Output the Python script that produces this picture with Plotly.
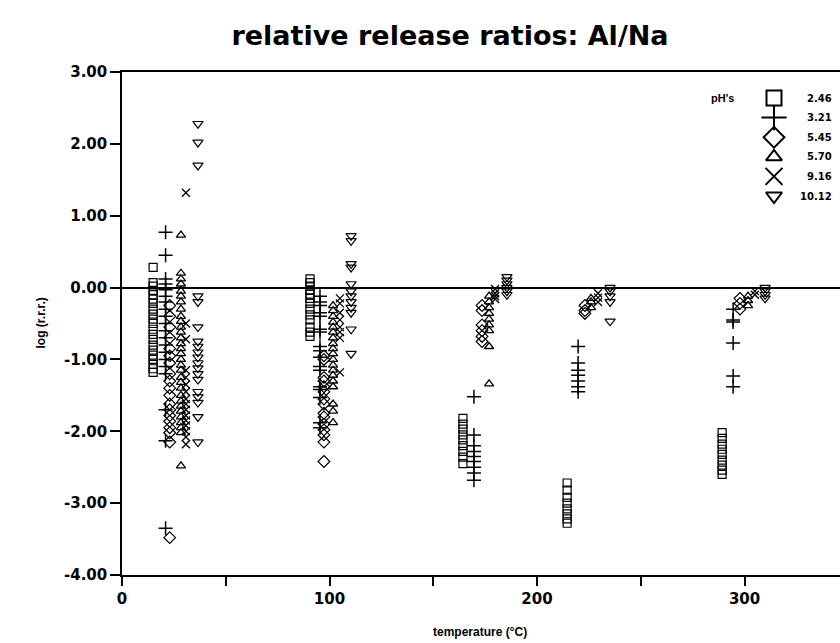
import plotly.graph_objects as go

# ---------------- data ----------------
ph_labels = ["2.46", "3.21", "5.45", "5.70", "9.16", "10.12"]

ph246_temps = [15.0, 90.6, 164.3, 214.5, 289.2]
ph246_vals = [
    [0.28, 0.07, 0.02, -0.04, -0.1, -0.16, -0.22, -0.3, -0.37, -0.44, -0.5, -0.58, -0.65, -0.72,
     -0.8, -0.87, -0.94, -1.0, -1.07, -1.13, -1.18],
    [0.12, 0.07, 0.02, -0.03, -0.09, -0.15, -0.22, -0.3, -0.38, -0.45, -0.55, -0.62, -0.68],
    [-1.82, -1.9, -1.97, -2.05, -2.12, -2.2, -2.28, -2.36, -2.45],
    [-2.72, -2.82, -2.92, -3.0, -3.08, -3.15, -3.22, -3.28],
    [-2.02, -2.1, -2.18, -2.25, -2.32, -2.4, -2.47, -2.54, -2.6],
]

ph321_temps = [21.0, 95.4, 169.6, 219.8, 294.5]
ph321_vals = [
    [0.77, 0.45, 0.12, 0.05, -0.03, -0.12, -0.2, -0.3, -0.4, -0.5, -0.6, -0.7, -0.8, -0.9, -1.0,
     -1.1, -1.2, -1.7, -2.13, -3.35],
    [-0.12, -0.2, -0.25, -0.35, -0.4, -0.58, -0.62, -0.82, -0.88, -0.97, -1.1, -1.15, -1.38,
     -1.42, -1.53, -1.88, -1.95],
    [-1.52, -2.05, -2.2, -2.28, -2.35, -2.42, -2.5, -2.58, -2.68],
    [-0.82, -1.05, -1.15, -1.22, -1.3, -1.38, -1.45],
    [-0.3, -0.45, -0.48, -0.77, -1.23, -1.38],
]

ph545_temps = [23.0, 97.3, 173.5, 223.1, 297.8]
ph545_vals = [
    [-0.25, -0.4, -0.55, -0.7, -0.85, -0.95, -1.05, -1.2, -1.3, -1.4, -1.5, -1.62, -1.7, -1.78,
     -1.86, -1.95, -2.02, -2.15, -3.48],
    [-0.95, -1.0, -1.25, -1.3, -1.38, -1.45, -1.55, -1.62, -1.75, -1.8, -1.9, -1.98, -2.05,
     -2.15, -2.42],
    [-0.25, -0.32, -0.52, -0.6, -0.68, -0.75],
    [-0.25, -0.32, -0.36],
    [-0.15, -0.22, -0.3],
]

ph570_temps = [28.4, 101.7, 176.9, 226.0, 301.7]
ph570_vals = [
    [0.73, 0.2, 0.12, 0.05, -0.05, -0.12, -0.2, -0.3, -0.4, -0.47, -0.55, -0.62, -0.7, -0.78,
     -0.85, -0.92, -1.0, -1.08, -1.15, -1.25, -1.32, -1.4, -1.5, -1.58, -1.65, -1.72, -1.8,
     -1.88, -1.95, -2.02, -2.48],
    [-0.25, -0.32, -0.4, -0.48, -0.55, -0.62, -0.7, -0.78, -0.85, -0.92, -1.0, -1.08, -1.15,
     -1.22, -1.3, -1.38, -1.62, -1.72, -1.88],
    [-0.12, -0.2, -0.28, -0.36, -0.44, -0.52, -0.6, -0.82, -1.34],
    [-0.15, -0.2, -0.28],
    [-0.12, -0.18, -0.25],
]

ph916_temps = [30.8, 105.0, 179.8, 229.4, 305.0]
ph916_vals = [
    [1.32, -0.5, -0.72, -1.15, -1.25, -1.35, -1.45, -1.55, -1.62, -1.7, -1.78, -1.85, -1.92,
     -2.0, -2.08, -2.18],
    [-0.15, -0.22, -0.35, -0.45, -0.55, -0.62, -0.7, -1.18],
    [-0.02, -0.08, -0.12, -0.16],
    [-0.08, -0.14, -0.2],
    [-0.05, -0.1],
]

ph1012_temps = [36.6, 110.4, 185.5, 235.2, 309.9]
ph1012_vals = [
    [2.28, 2.02, 1.7, -0.12, -0.2, -0.55, -0.75, -0.82, -0.9, -0.97, -1.05, -1.12, -1.2, -1.28,
     -1.45, -1.52, -1.6, -1.8, -2.15],
    [0.72, 0.65, 0.33, 0.28, 0.05, -0.05, -0.12, -0.2, -0.28, -0.35, -0.58, -0.92],
    [0.15, 0.1, 0.05, 0.0, -0.05, -0.1],
    [0.0, -0.05, -0.12, -0.2, -0.47],
    [0.0, -0.05, -0.1, -0.15],
]

x_tickvals = [0, 50, 100, 150, 200, 250, 300]
x_ticktext = ["0", "", "100", "", "200", "", "300"]
y_tickvals = [3, 2, 1, 0, -1, -2, -3, -4]
y_ticktext = ["3.00", "2.00", "1.00", "0.00", "-1.00", "-2.00", "-3.00", "-4.00"]

# ---------------- styles ----------------
series = [
    (ph246_temps, ph246_vals, "square-open", 8, 1.2),
    (ph321_temps, ph321_vals, "cross-thin-open", 10, 1.5),
    (ph545_temps, ph545_vals, "diamond-open", 9, 1.2),
    (ph570_temps, ph570_vals, "triangle-up-open", 8, 1.3),
    (ph916_temps, ph916_vals, "x-thin-open", 8, 1.3),
    (ph1012_temps, ph1012_vals, "triangle-down-open", 9, 1.2),
]
legend_sizes = [15, 18, 16, 14, 17, 14]

fig = go.Figure()

for temps, vals, sym, size, lw in series:
    xs, ys = [], []
    for t, col in zip(temps, vals):
        xs += [t] * len(col)
        ys += col
    fig.add_trace(go.Scatter(
        x=xs, y=ys, mode="markers",
        marker=dict(symbol=sym, size=size, color="black", line=dict(color="black", width=lw)),
        showlegend=False, hoverinfo="skip",
    ))

bold_wide = "DejaVu Sans, Verdana, sans-serif"
bold_narrow = "Liberation Sans, Arial, sans-serif"

# manual legend in a pixel-space overlay axis
leg_x = 774
leg_y0 = 98
leg_dy = 19.6
for i, (temps, vals, sym, size, lw) in enumerate(series):
    fig.add_trace(go.Scatter(
        x=[leg_x], y=[leg_y0 + i * leg_dy], xaxis="x2", yaxis="y2", mode="markers",
        marker=dict(symbol=sym, size=legend_sizes[i], color="black",
                    line=dict(color="black", width=2)),
        showlegend=False, hoverinfo="skip", cliponaxis=False,
    ))
    fig.add_annotation(x=834, y=leg_y0 + i * leg_dy, xref="x2", yref="y2",
                       text=ph_labels[i], showarrow=False, xanchor="right",
                       font=dict(family=bold_wide, size=10, color="black", weight="bold"))
fig.add_annotation(x=722, y=leg_y0, xref="x2", yref="y2", text="pH's", showarrow=False,
                   font=dict(family=bold_narrow, size=11, color="black", weight="bold"))

fig.update_layout(
    width=840, height=643,
    margin=dict(l=122, r=0, t=72, b=68),
    plot_bgcolor="white", paper_bgcolor="white",
    font=dict(family=bold_narrow, color="black"),
    showlegend=False,
    title=dict(text="relative release ratios: Al/Na", x=450 / 840, xanchor="center",
               y=1 - 36 / 643, yanchor="middle", yref="container",
               font=dict(family=bold_wide, size=27, color="black", weight="bold")),
    xaxis=dict(range=[0, 346], tickvals=x_tickvals, ticktext=x_ticktext,
               ticks="outside", ticklen=9, tickwidth=1.5, tickcolor="black",
               showline=True, linecolor="black", linewidth=1.5, mirror=True,
               showgrid=False, zeroline=False,
               tickfont=dict(family=bold_wide, size=15, weight="bold", color="black")),
    yaxis=dict(range=[-4, 3], tickvals=y_tickvals, ticktext=y_ticktext,
               ticks="outside", ticklen=10, tickwidth=1.5, tickcolor="black",
               showline=True, linecolor="black", linewidth=1.5,
               showgrid=False, zeroline=True, zerolinecolor="black", zerolinewidth=2,
               tickfont=dict(family=bold_wide, size=15, weight="bold", color="black")),
    xaxis2=dict(range=[122, 840], overlaying="x", anchor="y2", visible=False),
    yaxis2=dict(range=[575, 72], overlaying="y", anchor="x2", visible=False),
)

fig.add_annotation(x=(480 - 122) / 718, y=(575 - 632) / 503, xref="paper", yref="paper",
                   text="temperature (°C)", showarrow=False,
                   xanchor="center", yanchor="middle",
                   font=dict(size=12, color="black", weight="bold"))
fig.add_annotation(x=(40 - 122) / 718, y=0.5, xref="paper", yref="paper",
                   text="log (r.r.r.)", showarrow=False, textangle=-90,
                   xanchor="center", yanchor="middle",
                   font=dict(size=12, color="black", weight="bold"))

fig.write_html("out.html", config={"displayModeBar": False},
               post_script="document.body.style.margin='0';")
